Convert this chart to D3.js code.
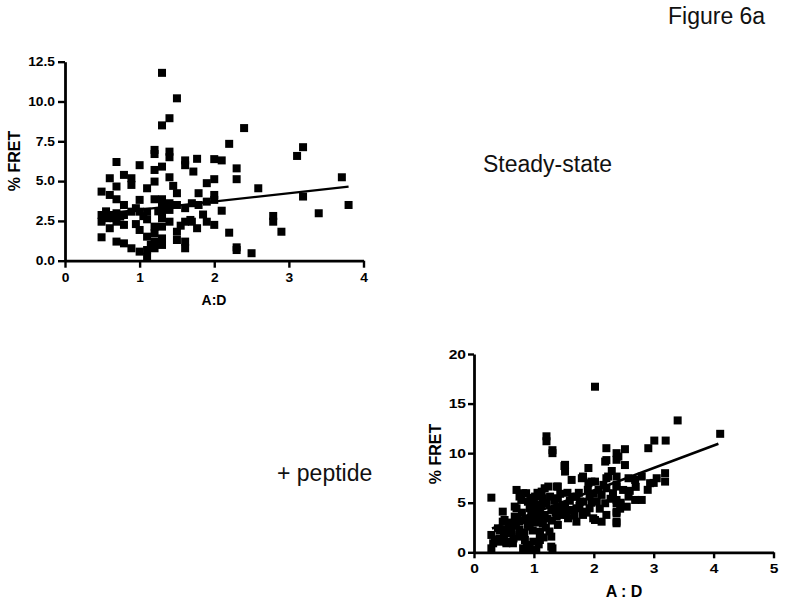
<!DOCTYPE html>
<html><head><meta charset="utf-8">
<script src="https://cdn.jsdelivr.net/npm/d3@7"></script>
<style>body{margin:0;background:#fff}svg{display:block}</style>
</head><body><svg id="c" width="787" height="606"></svg>
<script>
// ---- data ----
const topXTicks = [0, 1, 2, 3, 4];
const topYTicks = [0, 2.5, 5, 7.5, 10, 12.5];
const botXTicks = [0, 1, 2, 3, 4, 5];
const botYTicks = [0, 5, 10, 15, 20];
const topFit = [2.68, 0.52];      // intercept, slope
const topFitRange = [0.5, 3.8];
const botFit = [1.72, 2.26];
const botFitRange = [0.3, 4.08];

const steadyStatePoints = [
[1.30,11.8],[1.50,10.2],[1.40,8.95],[1.30,8.5],[1.20,6.96],[1.20,6.7],[1.40,6.85],[1.40,6.5],
[0.69,6.2],[1.00,6.0],[1.61,6.3],[1.61,6.0],[1.77,6.4],[2.40,8.33],[2.20,7.34],[2.00,6.38],
[2.10,6.3],[2.30,5.8],[3.19,7.13],[3.11,6.58],[3.71,5.24],[3.80,3.5],[3.40,2.98],[3.19,4.03],
[2.59,4.55],[2.79,2.81],[2.79,2.45],[2.90,1.82],[2.50,0.47],[2.30,0.84],[2.20,1.76],[2.10,3.14],
[2.00,2.25],[1.90,2.45],[2.30,5.12],[1.90,4.87],[2.00,5.12],[2.00,4.13],[2.00,3.82],[1.79,4.24],
[1.79,3.5],[1.90,3.71],[1.72,5.6],[1.68,2.56],[0.49,4.34],[0.60,5.18],[0.69,4.66],[0.60,4.13],
[0.69,3.86],[0.79,5.39],[0.89,5.18],[0.89,4.76],[1.10,4.55],[1.20,5.7],[1.20,4.97],[1.30,5.91],
[1.40,5.24],[1.50,4.24],[1.50,3.5],[1.61,3.3],[1.70,3.61],[1.20,3.86],[1.30,3.86],[1.00,3.82],
[1.00,3.08],[1.10,3.08],[0.89,3.08],[0.79,3.5],[0.49,2.87],[0.49,2.45],[0.60,2.87],[0.60,2.04],
[0.69,2.98],[0.69,2.45],[0.79,2.87],[0.79,2.25],[0.56,2.67],[0.65,2.67],[0.74,2.77],[0.49,1.47],
[0.69,1.2],[0.79,1.09],[0.89,0.78],[1.00,0.57],[1.10,0.25],[1.00,1.93],[1.10,1.51],[1.20,2.14],
[1.20,1.72],[1.20,1.2],[1.30,2.67],[1.30,2.14],[1.30,1.4],[1.30,0.99],[1.20,0.78],[1.10,0.67],
[1.30,2.98],[1.40,2.45],[1.50,1.82],[1.50,1.3],[1.61,1.2],[1.61,0.78],[1.70,2.45],[1.61,2.45],
[1.77,2.04],[1.40,3.19],[1.40,3.61],[1.30,3.4],[1.10,2.6],[0.95,2.3],[1.55,2.2],[1.45,4.7],
[2.30,0.67],[0.55,3.1],[0.95,3.3],[1.05,2.8],[1.25,3.1],[1.85,2.9],[1.15,1.0]
];

const peptidePoints = [
[2.02,16.7],[1.21,11.7],[1.21,11.2],[1.31,10.3],[1.31,10.0],[1.51,8.7],[1.91,8.5],[2.21,10.5],
[2.21,9.3],[2.41,9.66],[3.40,13.3],[4.11,11.95],[3.01,11.27],[3.20,11.27],[2.91,10.5],[2.52,10.4],
[2.38,10.0],[2.38,9.33],[2.52,8.8],[3.19,7.98],[3.19,7.13],[3.05,7.47],[2.94,6.97],[2.80,7.64],
[2.69,7.3],[2.58,7.47],[2.80,5.28],[2.69,5.28],[2.58,5.62],[2.49,6.29],[2.38,6.8],[2.32,5.96],
[2.38,5.28],[2.38,3.94],[2.38,3.09],[0.29,5.51],[0.29,1.75],[0.29,0.4],[0.40,2.42],[0.48,4.1],
[0.48,3.09],[0.43,1.07],[0.54,0.91],[0.60,1.92],[0.71,6.29],[0.71,4.44],[0.76,3.09],[0.76,1.75],
[0.87,5.96],[0.85,1.24],[0.93,2.59],[0.96,3.77],[0.93,0.4],[1.04,0.23],[1.10,2.08],[1.10,1.24],
[1.29,1.58],[1.31,0.4],[1.52,8.82],[1.52,8.14],[1.63,7.3],[1.82,7.64],[1.91,6.97],[1.96,7.13],
[2.02,3.26],[2.13,3.09],[2.21,3.77],[2.38,2.93],[2.16,6.8],[2.24,7.64],[2.19,9.15],[2.38,4.95],
[2.38,4.1],[2.19,4.95],[1.93,5.62],[1.77,5.11],[1.71,3.09],[1.82,4.1],[1.66,4.27],[1.55,3.77],
[1.46,4.61],[1.38,6.63],[1.24,6.63],[1.13,6.12],[1.02,5.62],[0.76,5.62],[0.82,5.96],[1.18,6.46],
[1.40,6.63],[1.80,7.47],[2.02,7.13],[2.21,7.47],[2.38,7.64],[2.38,6.63],[2.21,6.46],[0.51,3.26],
[0.68,4.61],[0.68,3.6],[0.79,5.28],[0.93,4.44],[1.04,4.78],[1.15,5.45],[1.27,5.62],[1.40,5.45],
[1.52,4.78],[1.71,5.62],[1.71,4.44],[1.60,4.27],[1.82,5.11],[1.93,4.44],[2.05,5.11],[2.13,5.79],
[1.82,3.77],[1.99,3.43],[1.40,2.76],[1.29,0.57],[1.10,1.75],[0.99,1.07],[0.88,0.74],[0.82,0.4],
[0.32,0.91],[0.43,2.25],[0.43,1.41],[0.54,1.07],[0.65,0.91],[0.63,2.08],[0.76,2.25],[0.76,1.58],
[0.90,2.76],[0.99,3.43],[1.07,3.09],[1.18,3.77],[1.29,4.27],[1.38,3.6],[1.10,4.27],[0.96,3.94],
[0.88,3.26],[1.49,3.77],[1.57,3.43],[1.21,4.95],[1.40,4.61],[1.00,5.0],[1.10,3.6],[1.20,2.5],
[0.90,5.1],[1.30,3.2],[1.15,2.9],[1.05,4.1],[0.60,3.0],[0.55,2.3],[0.70,2.7],[1.60,5.2],
[1.75,6.0],[1.90,6.3],[2.00,5.9],[2.30,8.2],[2.60,6.2],[2.70,6.6],[2.90,6.3],[3.00,7.0],
[2.55,4.6],[2.45,5.0],
[0.35,1.3],[0.50,1.8],[0.58,2.7],[0.66,1.4],[0.72,3.4],[0.80,4.0],[0.84,2.0],[0.98,2.2],
[1.02,3.0],[1.08,0.8],[1.12,4.8],[1.16,1.5],[1.22,3.4],[1.26,2.1],[1.34,5.2],[1.36,4.0],
[1.44,5.9],[1.48,4.2],[1.56,6.0],[1.64,5.6],[1.68,3.7],[1.76,4.7],[1.88,4.0],[1.96,5.0],
[2.08,6.3],[2.10,4.4],[2.28,5.4],[2.44,4.4],[1.06,6.0],[0.94,5.5]
];

// ---- drawing ----
const svg = d3.select("#c");
const FONT = "'Liberation Sans', Arial, Helvetica, sans-serif";

function panel(cfg) {
  const x = d3.scaleLinear().domain(cfg.xDom).range(cfg.xRange);
  const y = d3.scaleLinear().domain(cfg.yDom).range(cfg.yRange);
  const g = svg.append("g");
  g.selectAll("rect.pt").data(cfg.points).join("rect").attr("class","pt")
    .attr("x", d => x(d[0]) - cfg.ms/2).attr("y", d => y(d[1]) - cfg.ms/2)
    .attr("width", cfg.ms).attr("height", cfg.ms).attr("fill", "#000");
  const line = d3.line().x(d => x(d)).y(d => y(cfg.fit[0] + cfg.fit[1]*d));
  g.append("path").datum(cfg.fitRange).attr("d", line)
    .attr("fill","none").attr("stroke","#000").attr("stroke-width", cfg.lw);
  const ax = g.append("g").attr("transform", `translate(0,${cfg.yRange[0]})`)
    .call(d3.axisBottom(x).tickValues(cfg.xTicks).tickFormat(d3.format("d"))
      .tickSize(cfg.tick).tickSizeOuter(0).tickPadding(cfg.xPad));
  const ay = g.append("g").attr("transform", `translate(${cfg.xRange[0]},0)`)
    .call(d3.axisLeft(y).tickValues(cfg.yTicks).tickFormat(cfg.yFmt)
      .tickSize(cfg.tick).tickSizeOuter(0).tickPadding(cfg.yPad));
  [ax, ay].forEach(a => {
    a.select(".domain").attr("stroke-width", 2.8).attr("stroke","#000");
    a.selectAll(".tick line").attr("stroke-width", 2.4).attr("stroke","#000");
    a.selectAll("text").attr("font-family", FONT).attr("font-weight","bold")
      .attr("font-size", cfg.tickFont).attr("fill","#000");
  });
  ax.selectAll("text").attr("transform", `scale(${cfg.sx},1)`);
  ay.selectAll("text").attr("x", -(cfg.tick + cfg.yPad)/cfg.sx).attr("transform", `scale(${cfg.sx},1)`);
  g.append("text").attr("x", cfg.xLab[0]).attr("y", cfg.xLab[1]).attr("text-anchor","middle")
    .attr("font-family", FONT).attr("font-weight","bold").attr("font-size", cfg.xLabFont)
    .text(cfg.xTitle);
  g.append("text").attr("transform", `translate(${cfg.yLab[0]},${cfg.yLab[1]}) rotate(-90)`)
    .attr("text-anchor","middle").attr("font-family", FONT).attr("font-weight","bold")
    .attr("font-size", 16).text("% FRET");
}

panel({points: steadyStatePoints, xDom:[0,4], xRange:[65,363.5], yDom:[0,12.5], yRange:[260.7,61.7],
  xTicks: topXTicks, yTicks: topYTicks, yFmt: d3.format(".1f"), fit: topFit, fitRange: topFitRange,
  ms: 8, lw: 2.2, tick: 7, xPad: 5.5, yPad: 3, tickFont: 12, sx: 1.15,
  xLab:[214,305], xLabFont: 14, xTitle: "A:D", yLab:[20,161]});

panel({points: peptidePoints, xDom:[0,5], xRange:[474,773.5], yDom:[0,20], yRange:[552.3,354],
  xTicks: botXTicks, yTicks: botYTicks, yFmt: d3.format("d"), fit: botFit, fitRange: botFitRange,
  ms: 8, lw: 2.6, tick: 6, xPad: 5, yPad: 2, tickFont: 13, sx: 1.2,
  xLab:[624,597], xLabFont: 16, xTitle: "A : D", yLab:[441,454]});

function label(t, x, y) {
  svg.append("text").attr("x", x).attr("y", y).attr("font-family", FONT)
    .attr("font-size", 23).attr("fill", "#111").text(t);
}
label("Figure 6a", 668, 24);
label("Steady-state", 483, 171.5);
label("+ peptide", 277, 481);
</script></body></html>
